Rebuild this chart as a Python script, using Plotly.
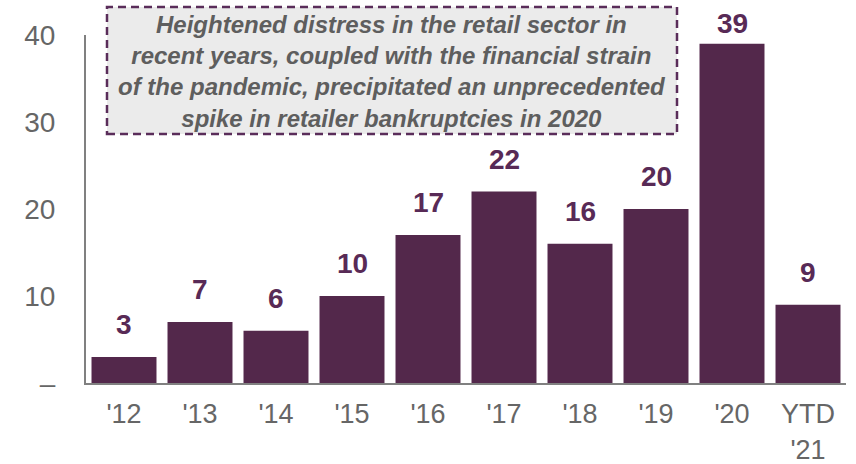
import plotly.graph_objects as go

categories = ["'12", "'13", "'14", "'15", "'16", "'17", "'18", "'19", "'20", "YTD<br>'21"]
values = [3, 7, 6, 10, 17, 22, 16, 20, 39, 9]
y_tickvals = [0, 10, 20, 30, 40]
y_ticktext = ["–", "10", "20", "30", "40"]
note_text = ("Heightened distress in the retail sector in<br>"
             "recent years, coupled with the financial strain<br>"
             "of the pandemic, precipitated an unprecedented<br>"
             "spike in retailer bankruptcies in 2020")

BAR = "#53284b"
LABEL = "#582a56"
GRAY = "#666666"
AXIS = "#808080"
FONT = "Liberation Sans, Arial, sans-serif"

L, R, T, B = 86, 10, 35, 81
W, H = 856, 464
pw, ph = W - L - R, H - T - B
Y_MAX = 40
ppu = ph / Y_MAX  # pixels per unit

fig = go.Figure()
fig.add_trace(go.Bar(
    x=categories, y=values, marker_color=BAR, marker_line_width=0,
    hoverinfo="skip", showlegend=False,
))

for c, v in zip(categories, values):
    gap = min(22, (Y_MAX + 0.15 - v) * ppu)
    fig.add_annotation(
        x=c, y=v, xref="x", yref="y",
        text=str(v), showarrow=False, yanchor="bottom", yshift=gap - 7,
        font=dict(family=FONT, size=28, color=LABEL, weight="bold"),
    )

def px_x(x):
    return (x - L) / pw
def px_y(y):
    return (H - B - y) / ph

fig.add_shape(
    type="rect", xref="paper", yref="paper",
    x0=px_x(107), x1=px_x(677), y0=px_y(134), y1=px_y(7),
    fillcolor="#ebebeb", line=dict(color="#5a2d5a", width=2.5, dash="8px,5px"),
    layer="above",
)
fig.add_annotation(
    xref="paper", yref="paper", x=px_x(392), y=px_y(71),
    text="<i><b>" + note_text + "</b></i>", showarrow=False,
    xanchor="center", yanchor="middle", align="center",
    font=dict(family=FONT, size=24, color="#5e5e5e"),
)

fig.update_layout(
    width=W, height=H,
    margin=dict(l=L, r=R, t=T, b=B, autoexpand=False),
    paper_bgcolor="white", plot_bgcolor="white",
    bargap=0.145,
    font=dict(family=FONT, size=28, color=GRAY),
)
fig.update_xaxes(
    showgrid=False, showline=True, linecolor=AXIS, linewidth=2,
    ticks="", tickfont=dict(size=27, color=GRAY), ticklabelstandoff=6,
    zeroline=False, automargin=False,
)
fig.update_yaxes(
    range=[0, Y_MAX], showgrid=False, showline=True, linecolor=AXIS, linewidth=2,
    tickvals=y_tickvals, ticktext=y_ticktext, ticks="",
    tickfont=dict(size=28, color=GRAY), ticklabelstandoff=23, zeroline=False,
    automargin=False,
)

fig.write_html("out.html")
